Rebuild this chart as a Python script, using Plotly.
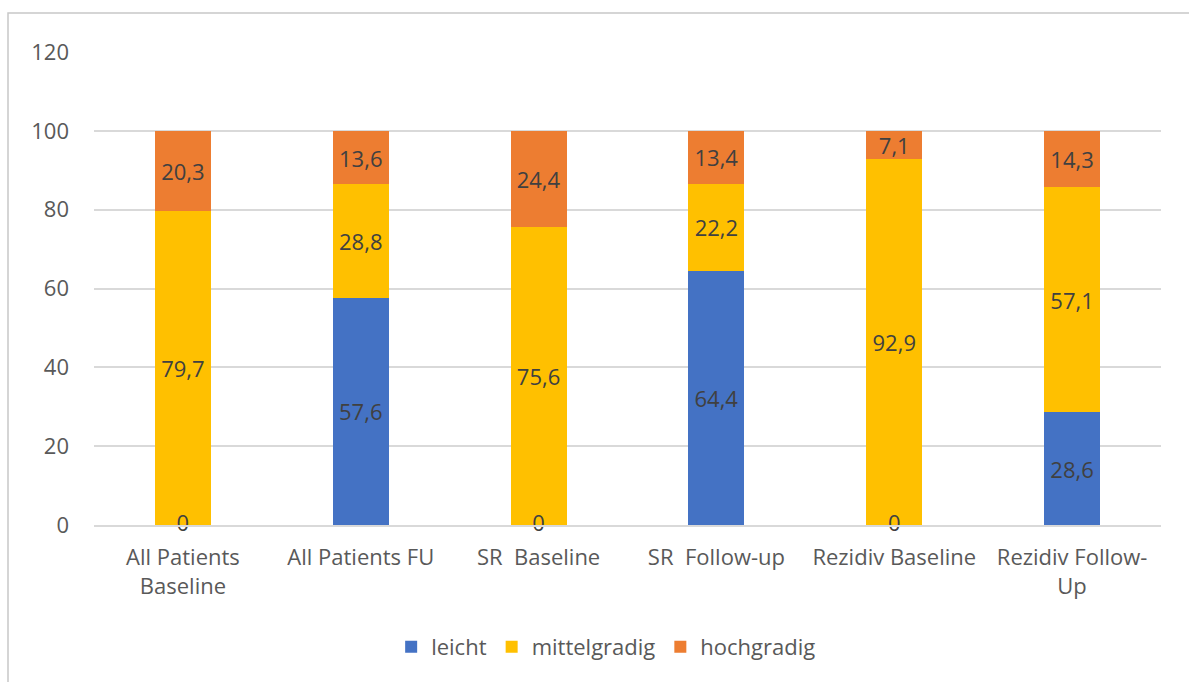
import plotly.graph_objects as go

categories = ["All Patients<br>Baseline", "All Patients FU", "SR\u00a0\u00a0Baseline",
              "SR\u00a0\u00a0Follow-up", "Rezidiv Baseline", "Rezidiv Follow-<br>Up"]
leicht = [0, 57.6, 0, 64.4, 0, 28.6]
mittelgradig = [79.7, 28.8, 75.6, 22.2, 92.9, 57.1]
hochgradig = [20.3, 13.6, 24.4, 13.4, 7.1, 14.3]
y_ticks = [0, 20, 40, 60, 80, 100, 120]

series = [("leicht", leicht, "#4472C4"),
          ("mittelgradig", mittelgradig, "#FFC000"),
          ("hochgradig", hochgradig, "#ED7D31")]

def fmt(v):
    return ("%.1f" % v).replace(".", ",") if v != 0 else "0"

FONT = "Open Sans, Liberation Sans, sans-serif"
LBL = 22
fig = go.Figure()
for name, vals, color in series:
    fig.add_trace(go.Bar(
        x=categories, y=vals, name=name, marker=dict(color=color, line=dict(width=0)),
        text=[fmt(v) if v != 0 else "" for v in vals],
        textposition="inside", insidetextanchor="middle", constraintext="none",
        textangle=0,
        textfont=dict(family=FONT, size=LBL, color="#404040"),
    ))

zero_x = [c for c, v in zip(categories, leicht) if v == 0]
zero_y = [v for v in leicht if v == 0]
fig.add_trace(go.Scatter(
    x=zero_x, y=zero_y, mode="text", text=[fmt(v) for v in zero_y],
    textposition="middle center", showlegend=False, cliponaxis=False,
    textfont=dict(family=FONT, size=LBL, color="#404040"), hoverinfo="skip",
))

fig.update_layout(
    barmode="stack", bargap=0.685,
    width=1189, height=682,
    margin=dict(l=94, r=28, t=52, b=157),
    paper_bgcolor="white", plot_bgcolor="white",
    font=dict(family=FONT, size=22, color="#595959"),
    legend=dict(orientation="h", x=0.48, xanchor="center", y=-0.258, yanchor="middle",
                font=dict(family=FONT, size=22, color="#595959"), traceorder="normal",
                itemwidth=30),
    xaxis=dict(showgrid=False, showline=True, linecolor="#d9d9d9", linewidth=1.5,
               ticks="", tickfont=dict(size=22, color="#595959"), ticklabelstandoff=12),
    yaxis=dict(range=[0, 120], tickvals=y_ticks, showgrid=True, gridcolor="#d9d9d9",
               gridwidth=1.5, zeroline=False, showline=False, ticks="",
               tickfont=dict(size=22, color="#595959"), ticklabelstandoff=24),
    shapes=[dict(type="rect", xref="paper", yref="paper",
                 x0=(8 - 94) / 1067, x1=1.05, y0=-0.4, y1=(525 - 13) / 473,
                 line=dict(color="#c8c8c8", width=1.5), fillcolor="rgba(0,0,0,0)",
                 layer="below")],
)

fig.write_html("out.html")
